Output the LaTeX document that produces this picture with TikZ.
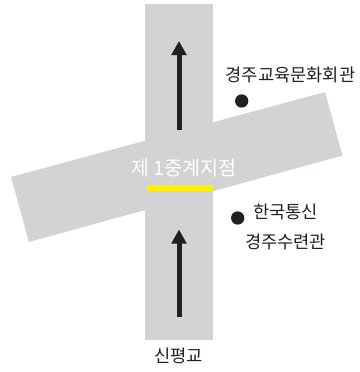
\documentclass[tikz,border=0pt]{standalone}
\usepackage{fontspec}
\setmainfont{Noto Sans CJK KR}
\usetikzlibrary{arrows.meta}
\definecolor{roadgray}{HTML}{D1D3D4}
\definecolor{ink}{HTML}{231F20}
\definecolor{markyellow}{HTML}{FFF200}
\tikzset{
  x=1pt,y=-1pt,
  roadfill/.style={fill=roadgray,draw=none},
  maplabel/.style={font=\fontsize{17.6}{17.6}\selectfont,text=ink,inner sep=0pt,anchor=center},
  flow/.style={draw=ink,line width=5pt,-{Triangle[length=14pt,width=14.5pt]}},
  site/.style={circle,fill=ink,draw=none,minimum size=13.3pt,inner sep=0pt}
}
\begin{document}
\begin{tikzpicture}
\useasboundingbox (0,0) rectangle (359,372);
\fill[roadfill] (145.3,4) rectangle (213,340);
\fill[roadfill] (11,177) -- (325,92) -- (342.5,155.5) -- (29,242) -- cycle;
\fill[markyellow] (147.3,185) rectangle (213,191.3);
\coordinate (a1) at (179,129.5);
\coordinate (a2) at (179,41);
\coordinate (b1) at (179,317);
\coordinate (b2) at (179,229.5);
\draw[flow] (a1) -- (a2);
\draw[flow] (b1) -- (b2);
\node[site] (d1) at (241.7,101) {};
\node[site] (d2) at (237.7,218) {};
\node[maplabel] (t1) at (290.5,75) {경주교육문화회관};
\node[maplabel] (t2) at (285.5,212) {한국통신};
\node[maplabel] (t3) at (285.5,242) {경주수련관};
\node[maplabel] (t4) at (178.5,356) {신평교};
\node[maplabel,text=white,font=\fontsize{19.6}{19.6}\selectfont] (t5) at (184,168) {제 1중계지점};
\end{tikzpicture}
\end{document}
